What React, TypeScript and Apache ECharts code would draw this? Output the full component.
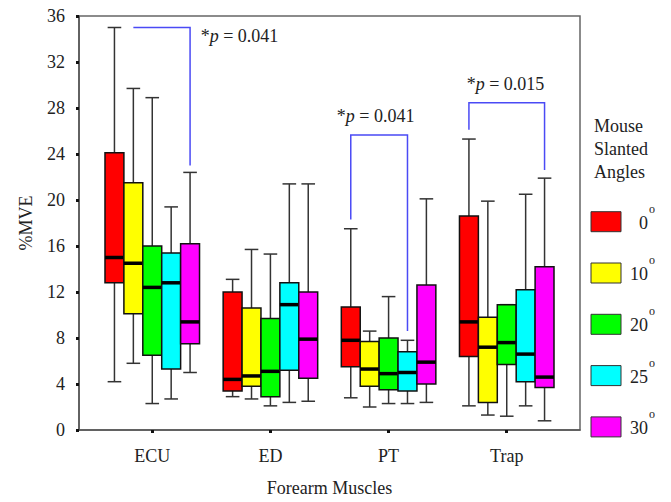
import React, { useEffect, useRef } from 'react';
import * as echarts from 'echarts';

const categories = ['ECU', 'ED', 'PT', 'Trap'];
const angleLabels = ['0', '10', '20', '25', '30'];
const colors = ['#ff0000', '#ffff00', '#00ff00', '#00ffff', '#ff00ff'];

// [min, q1, median, q3, max] for ECU, ED, PT, Trap
const angle0 = [
  [4.2, 12.8, 15.0, 24.1, 35.0],
  [2.9, 3.4, 4.4, 12.0, 13.1],
  [2.8, 5.5, 7.8, 10.7, 17.5],
  [2.1, 6.4, 9.4, 18.6, 25.3],
];
const angle10 = [
  [5.8, 10.1, 14.5, 21.5, 29.7],
  [2.7, 3.8, 4.7, 10.6, 15.7],
  [2.0, 3.8, 5.3, 7.7, 8.6],
  [1.3, 2.4, 7.2, 9.8, 19.9],
];
const angle20 = [
  [2.3, 6.5, 12.4, 16.0, 28.9],
  [2.1, 2.9, 5.1, 9.7, 15.3],
  [2.3, 3.5, 4.9, 8.0, 11.6],
  [1.2, 5.7, 7.6, 10.9, 10.9],
];
const angle25 = [
  [2.7, 5.3, 12.8, 15.4, 19.4],
  [2.4, 5.2, 10.9, 12.8, 21.4],
  [2.3, 3.4, 5.0, 6.8, 7.8],
  [2.1, 4.2, 6.6, 12.2, 20.5],
];
const angle30 = [
  [5.0, 7.5, 9.4, 16.2, 22.4],
  [2.5, 4.5, 7.9, 12.0, 21.4],
  [2.4, 4.0, 5.9, 12.6, 20.1],
  [0.8, 3.7, 4.6, 14.2, 21.9],
];
const angleData = [angle0, angle10, angle20, angle25, angle30];

// significance brackets: category, from box, to box, top value, left drop end, right drop end, p label
const bracketCategory = [0, 2, 3];
const bracketFromBox = [1, 0, 0];
const bracketToBox = [4, 3, 4];
const bracketTop = [35.0, 25.65, 28.45];
const bracketLeftEnd = [35.0, 18.3, 26.1];
const bracketRightEnd = [23.0, 8.6, 22.6];
const bracketP = ['0.041', '0.041', '0.015'];

// label placement (layout, not data)
const labelLayout = [
  { dx: 0.41, y: 34.3, align: 'left' },
  { dx: -0.11, y: 27.3, align: 'center' },
  { dx: -0.01, y: 30.1, align: 'center' },
];

const BOX_W = 0.16;
const FONT = '"Liberation Serif", "Times New Roman", serif';

export default function App() {
  const ref = useRef<HTMLDivElement>(null);

  useEffect(() => {
    if (!ref.current) return;
    const chart = echarts.init(ref.current, undefined, { renderer: 'svg' });

    const boxSeries = angleData.map((rows, j) => ({
      type: 'custom',
      name: angleLabels[j],
      clip: false,
      encode: { x: 0, y: [1, 2, 3, 4, 5] },
      data: rows.map((d, i) => [i + (j - 2) * BOX_W, ...d]),
      renderItem: (params: any, api: any) => {
        const x = api.value(0);
        const lo = api.coord([x, api.value(1)]);
        const q1 = api.coord([x, api.value(2)]);
        const med = api.coord([x, api.value(3)]);
        const q3 = api.coord([x, api.value(4)]);
        const hi = api.coord([x, api.value(5)]);
        const w = api.size([BOX_W, 0])[0];
        const cap = w * 0.36;
        const cx = med[0];
        const wStyle = { stroke: '#333', lineWidth: 1.5 };
        return {
          type: 'group',
          children: [
            { type: 'line', shape: { x1: cx, y1: hi[1], x2: cx, y2: q3[1] }, style: wStyle },
            { type: 'line', shape: { x1: cx, y1: q1[1], x2: cx, y2: lo[1] }, style: wStyle },
            { type: 'line', shape: { x1: cx - cap, y1: hi[1], x2: cx + cap, y2: hi[1] }, style: wStyle },
            { type: 'line', shape: { x1: cx - cap, y1: lo[1], x2: cx + cap, y2: lo[1] }, style: wStyle },
            {
              type: 'rect',
              shape: { x: cx - w / 2, y: q3[1], width: w, height: q1[1] - q3[1] },
              style: { fill: colors[j], stroke: '#111', lineWidth: 1.5 },
            },
            {
              type: 'line',
              shape: { x1: cx - w / 2, y1: med[1], x2: cx + w / 2, y2: med[1] },
              style: { stroke: '#000', lineWidth: 3.5 },
            },
          ],
        };
      },
    }));

    const bracketSeries = {
      type: 'custom',
      name: 'brackets',
      clip: false,
      encode: { x: [0, 1], y: [2, 3, 4] },
      data: bracketCategory.map((c, k) => [
        c + (bracketFromBox[k] - 2) * BOX_W,
        c + (bracketToBox[k] - 2) * BOX_W,
        bracketTop[k],
        bracketLeftEnd[k],
        bracketRightEnd[k],
        k,
      ]),
      renderItem: (params: any, api: any) => {
        const k = api.value(5);
        const x1 = api.value(0);
        const x2 = api.value(1);
        const pTopL = api.coord([x1, api.value(2)]);
        const pTopR = api.coord([x2, api.value(2)]);
        const pL = api.coord([x1, api.value(3)]);
        const pR = api.coord([x2, api.value(4)]);
        const lay = labelLayout[k];
        const c = bracketCategory[k];
        const tp = api.coord([c + lay.dx, lay.y]);
        return {
          type: 'group',
          children: [
            {
              type: 'polyline',
              shape: { points: [pL, pTopL, pTopR, pR] },
              style: { stroke: '#4a4af5', lineWidth: 1.5, fill: 'none' },
            },
            {
              type: 'text',
              style: {
                x: tp[0],
                y: tp[1],
                text: '{a|*}{i|p}{a| = ' + bracketP[k] + '}',
                align: lay.align,
                verticalAlign: 'middle',
                rich: {
                  a: { fontFamily: FONT, fontSize: 18, fill: '#222' },
                  i: { fontFamily: FONT, fontSize: 18, fontStyle: 'italic', fill: '#222' },
                },
              },
            },
          ],
        };
      },
    };

    const legendGraphics: any[] = [
      {
        type: 'text',
        style: {
          x: 594,
          y: 114,
          text: 'Mouse\nSlanted\nAngles',
          font: '18px ' + FONT,
          lineHeight: 23,
          fill: '#222',
          textAlign: 'left',
          textVerticalAlign: 'top',
        },
      },
    ];
    angleLabels.forEach((lab, j) => {
      const top = 211.7 + j * 51.3;
      legendGraphics.push({
        type: 'rect',
        shape: { x: 591, y: top, width: 30, height: 20 },
        style: { fill: colors[j], stroke: '#333', lineWidth: 1 },
      });
      legendGraphics.push({
        type: 'text',
        style: {
          x: 648,
          y: top + 11,
          text: lab,
          font: '18px ' + FONT,
          fill: '#222',
          textAlign: 'right',
          textVerticalAlign: 'middle',
        },
      });
      legendGraphics.push({
        type: 'text',
        style: {
          x: 649,
          y: top - 3,
          text: 'o',
          font: '12px ' + FONT,
          fill: '#222',
          textAlign: 'left',
          textVerticalAlign: 'middle',
        },
      });
    });

    const axisLabelStyle = { fontFamily: FONT, fontSize: 18, color: '#222' };

    chart.setOption({
      animation: false,
      backgroundColor: '#fff',
      grid: {
        left: 79,
        right: 91,
        top: 16,
        bottom: 65,
        show: true,
        borderColor: '#666',
        borderWidth: 1.5,
      },
      xAxis: {
        type: 'value',
        min: -0.62,
        max: 3.62,
        splitLine: { show: false },
        axisLine: { show: true, onZero: false, lineStyle: { color: '#555', width: 1.5 } },
        axisTick: { show: true, customValues: [0, 1, 2, 3], length: 3, lineStyle: { color: '#111', width: 3 } },
        axisLabel: {
          customValues: [0, 1, 2, 3],
          formatter: (v: number) => categories[Math.round(v)],
          margin: 17,
          ...axisLabelStyle,
        },
        name: 'Forearm Muscles',
        nameLocation: 'middle',
        nameGap: 49,
        nameTextStyle: axisLabelStyle,
      },
      yAxis: {
        type: 'value',
        min: 0,
        max: 36,
        interval: 4,
        splitLine: { show: false },
        axisLine: { show: true, onZero: false, lineStyle: { color: '#555', width: 1.5 } },
        axisTick: { show: true, length: 3, lineStyle: { color: '#111', width: 3 } },
        axisLabel: { margin: 14, ...axisLabelStyle },
        name: '%MVE',
        nameLocation: 'middle',
        nameRotate: 90,
        nameGap: 44,
        nameTextStyle: axisLabelStyle,
      },
      series: [...boxSeries, bracketSeries],
      graphic: legendGraphics,
    });

    return () => chart.dispose();
  }, []);

  return (
    <div
      ref={ref}
      style={{ position: 'fixed', left: 0, top: 0, width: 671, height: 502, background: '#fff' }}
    />
  );
}
